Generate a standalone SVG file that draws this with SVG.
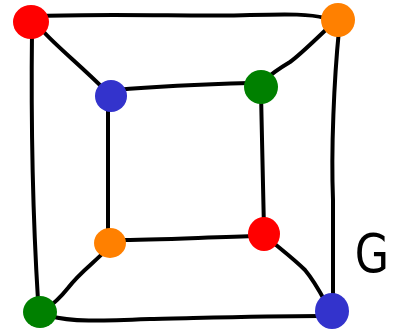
<svg xmlns="http://www.w3.org/2000/svg" width="398" height="332" viewBox="0 0 398 332">
<style>
.e{fill:none;stroke:#000;stroke-width:4;stroke-linecap:round;stroke-linejoin:round}
.red{fill:#ff0000}.blue{fill:#3333cc}.orange{fill:#ff8000}.green{fill:#008000}
.lbl{font-family:"DejaVu Sans",sans-serif;font-size:50px;fill:none;stroke:#000;stroke-width:3.5}
</style>
<rect width="398" height="332" fill="#fff"/>
<g id="edges">
<path class="e" d="M40,16 C120,13 200,17 250,15 C290,14 310,14 325,18"/>
<path class="e" d="M32,30 C31,120 33,220 38,300"/>
<path class="e" d="M339,30 C334,80 331,150 333,200 C333,240 333,270 333,300"/>
<path class="e" d="M50,316 C70,322 100,321 150,319 C200,318 260,316 320,316"/>
<path class="e" d="M115,90 C160,86 210,84 250,83"/>
<path class="e" d="M108,100 C108,150 108,200 108,240"/>
<path class="e" d="M261,92 C262,140 263,190 264,230"/>
<path class="e" d="M115,240 C160,240 210,237 260,236"/>
<path class="e" d="M42,30 C55,45 80,65 105,90"/>
<path class="e" d="M332,24 C315,40 300,55 290,62 C280,68 272,73 265,80"/>
<path class="e" d="M106,250 C95,262 80,272 68,288 C60,298 52,305 45,310"/>
<path class="e" d="M270,240 C282,250 295,260 305,270 C315,282 320,292 327,305"/>
</g>
<g id="n1"><ellipse class="red" cx="31" cy="22" rx="18" ry="17"/></g>
<g id="n2"><ellipse class="orange" cx="338" cy="20" rx="17" ry="17"/></g>
<g id="n3"><ellipse class="blue" cx="111" cy="96" rx="16" ry="16"/></g>
<g id="n4"><ellipse class="green" cx="261" cy="87" rx="17" ry="17"/></g>
<g id="n5"><ellipse class="orange" cx="110" cy="243" rx="16" ry="15"/></g>
<g id="n6"><ellipse class="red" cx="264" cy="234" rx="16" ry="17"/></g>
<g id="n7"><ellipse class="green" cx="40" cy="312" rx="17" ry="16"/></g>
<g id="n8"><ellipse class="blue" cx="332" cy="311" rx="17" ry="18"/></g>
<g id="label"><text x="372" y="272" text-anchor="middle" font-family="DejaVu Sans, sans-serif" font-size="54" fill="#000" transform="translate(372,0) scale(0.82,1) translate(-372,0)">G</text></g>
</svg>
